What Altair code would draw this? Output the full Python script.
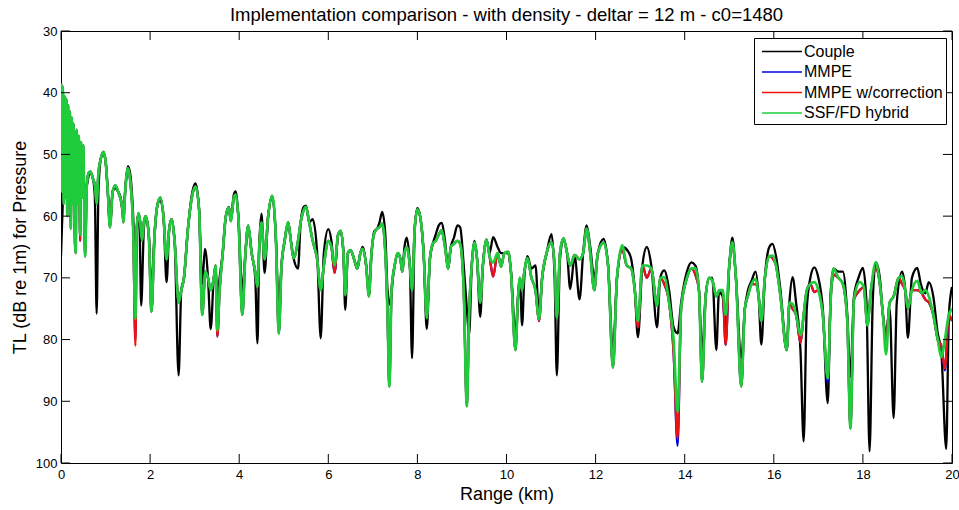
import altair as alt
import pandas as pd

# ---------------- data ----------------
range_couple = [
    0.00, 0.02, 0.04, 0.07, 0.12, 0.20, 0.30, 0.40, 0.50, 0.58,
    0.62, 0.66, 0.72, 0.76, 0.80, 0.84, 0.90, 0.95, 1.00, 1.05,
    1.10, 1.16, 1.22, 1.28, 1.34, 1.40, 1.45, 1.50, 1.55, 1.62,
    1.67, 1.72, 1.76, 1.80, 1.86, 1.90, 1.97, 2.03, 2.10, 2.17,
    2.23, 2.30, 2.37, 2.43, 2.48, 2.55, 2.64, 2.70, 2.76, 2.85,
    2.95, 3.02, 3.10, 3.17, 3.23, 3.30, 3.36, 3.43, 3.47, 3.51,
    3.56, 3.63, 3.70, 3.77, 3.81, 3.88, 3.92, 3.98, 4.07, 4.14,
    4.20, 4.28, 4.36, 4.41, 4.45, 4.50, 4.57, 4.65, 4.74, 4.82,
    4.89, 4.95, 5.02, 5.10, 5.16, 5.22, 5.32, 5.38, 5.45, 5.50,
    5.57, 5.65, 5.75, 5.83, 5.90, 6.00, 6.07, 6.14, 6.22, 6.28,
    6.34, 6.38, 6.44, 6.50, 6.58, 6.65, 6.72, 6.77, 6.85, 6.91,
    6.97, 7.03, 7.10, 7.15, 7.21, 7.28, 7.33, 7.39, 7.45, 7.49,
    7.56, 7.62, 7.66, 7.71, 7.76, 7.83, 7.88, 7.94, 8.00, 8.06,
    8.14, 8.21, 8.28, 8.35, 8.41, 8.48, 8.54, 8.62, 8.69, 8.75,
    8.82, 8.90, 8.96, 9.04, 9.11, 9.16, 9.22, 9.28, 9.34, 9.41,
    9.47, 9.55, 9.62, 9.70, 9.80, 9.88, 9.95, 10.04, 10.10, 10.20,
    10.26, 10.30, 10.35, 10.40, 10.47, 10.56, 10.65, 10.73, 10.80, 10.90,
    11.01, 11.08, 11.13, 11.20, 11.28, 11.36, 11.43, 11.53, 11.64, 11.72,
    11.80, 11.88, 11.97, 12.05, 12.18, 12.28, 12.39, 12.48, 12.60, 12.72,
    12.80, 12.88, 12.95, 13.05, 13.15, 13.25, 13.38, 13.45, 13.54, 13.65,
    13.75, 13.84, 13.92, 14.05, 14.15, 14.24, 14.32, 14.39, 14.47, 14.55,
    14.62, 14.71, 14.77, 14.85, 14.92, 15.00, 15.07, 15.15, 15.27, 15.35,
    15.42, 15.50, 15.59, 15.66, 15.72, 15.80, 15.90, 15.97, 16.05, 16.15,
    16.29, 16.35, 16.42, 16.50, 16.60, 16.67, 16.74, 16.82, 16.91, 17.00,
    17.10, 17.21, 17.28, 17.34, 17.45, 17.55, 17.65, 17.72, 17.80, 17.90,
    18.00, 18.08, 18.15, 18.22, 18.29, 18.38, 18.45, 18.52, 18.60, 18.69,
    18.76, 18.88, 18.95, 19.01, 19.10, 19.22, 19.30, 19.40, 19.48, 19.58,
    19.68, 19.76, 19.87, 19.93, 20.00,
]
tl_couple = [
    66.5, 62, 58, 53, 51, 52, 55, 54, 55, 55,
    53.5, 53, 54, 57, 75.8, 56, 50.5, 49.8, 51, 56,
    61.5, 56, 55.5, 56, 57, 60, 55, 51.9, 53, 60,
    70, 60, 61, 74.5, 62, 60, 63, 72, 63, 58,
    57.5, 60, 70.7, 62, 60.5, 64, 85.8, 72, 70, 62,
    56, 54.7, 59, 71, 65.3, 70, 78.3, 70, 68.5, 74,
    70, 66, 60, 58.5, 60.5, 56.5, 56, 60, 72, 66,
    61.5, 66, 70, 80.6, 65, 59.6, 69.2, 60, 57, 63,
    75, 68, 64, 61, 64, 66.8, 68.5, 61, 58.5, 58.3,
    61, 60.5, 66, 79.8, 66, 62.1, 64, 69, 63, 62.6,
    66, 75.2, 66, 65.5, 67, 68.5, 66, 65, 68, 72,
    66, 62.5, 62, 61, 59.3, 63, 72, 74.4, 70, 68,
    66, 67, 69, 65, 63.5, 68, 83, 62, 58.7, 60,
    66, 78.3, 67, 64.4, 63, 61.5, 61.1, 64, 68.5, 65,
    63.5, 61.5, 61.8, 68, 75, 79.3, 68, 64, 67, 76.3,
    68, 63.8, 66, 63.4, 65, 66, 66, 66, 69, 79,
    73, 70, 77.7, 70, 66.5, 68.5, 68, 76, 70, 66,
    62.9, 70, 85.8, 67, 64, 66, 71.8, 66.5, 73.5, 66,
    61.5, 65, 70, 66, 63.7, 68, 82, 70, 65, 65.6,
    67, 72, 79.6, 68, 65, 68, 78, 70, 68.8, 72,
    78, 79, 74, 69, 67.5, 68, 72, 82, 73, 70,
    70, 81.7, 72.3, 73, 78, 68, 63.5, 70, 83, 75,
    72, 70.5, 69, 73, 80.8, 70, 65, 64.5, 66.5, 72,
    81.7, 74, 69.9, 74, 82, 96.5, 75, 70, 68.3, 70,
    75, 90.3, 72, 68.5, 69, 69, 76, 86, 73, 70,
    68.4, 74, 98.1, 74, 67.5, 70, 76, 79, 75, 92.7,
    74, 69, 72, 79.7, 70, 68.4, 71, 72.5, 70.7, 73,
    79, 82, 97.7, 76, 71.5,
]

range_pe = [
    0.00, 0.02, 0.04, 0.06, 0.08, 0.10, 0.12, 0.14, 0.16, 0.18,
    0.20, 0.22, 0.24, 0.26, 0.28, 0.30, 0.33, 0.35, 0.38, 0.40,
    0.43, 0.45, 0.48, 0.50, 0.54, 0.58, 0.62, 0.66, 0.72, 0.76,
    0.80, 0.84, 0.90, 0.95, 1.00, 1.05, 1.10, 1.16, 1.22, 1.28,
    1.32, 1.38, 1.40, 1.44, 1.50, 1.55, 1.62, 1.67, 1.70, 1.74,
    1.78, 1.82, 1.86, 1.90, 1.97, 2.03, 2.10, 2.17, 2.23, 2.30,
    2.37, 2.43, 2.48, 2.55, 2.64, 2.70, 2.76, 2.85, 2.95, 3.02,
    3.10, 3.17, 3.24, 3.30, 3.36, 3.43, 3.47, 3.51, 3.56, 3.63,
    3.70, 3.77, 3.81, 3.88, 3.92, 3.98, 4.07, 4.14, 4.20, 4.28,
    4.36, 4.41, 4.45, 4.50, 4.57, 4.65, 4.74, 4.82, 4.89, 4.95,
    5.02, 5.10, 5.16, 5.22, 5.32, 5.38, 5.45, 5.50, 5.57, 5.65,
    5.75, 5.83, 5.90, 6.00, 6.07, 6.14, 6.22, 6.28, 6.34, 6.38,
    6.44, 6.50, 6.58, 6.65, 6.72, 6.77, 6.85, 6.91, 6.97, 7.03,
    7.10, 7.15, 7.21, 7.28, 7.33, 7.37, 7.42, 7.49, 7.56, 7.62,
    7.66, 7.71, 7.76, 7.83, 7.88, 7.94, 8.00, 8.06, 8.14, 8.21,
    8.28, 8.35, 8.41, 8.48, 8.54, 8.62, 8.69, 8.75, 8.82, 8.90,
    8.96, 9.04, 9.11, 9.16, 9.22, 9.28, 9.34, 9.41, 9.47, 9.55,
    9.62, 9.70, 9.80, 9.88, 9.95, 10.04, 10.10, 10.20, 10.26, 10.30,
    10.35, 10.40, 10.47, 10.56, 10.65, 10.73, 10.80, 10.90, 11.01, 11.08,
    11.13, 11.20, 11.28, 11.36, 11.43, 11.53, 11.64, 11.72, 11.80, 11.88,
    11.97, 12.05, 12.18, 12.28, 12.39, 12.48, 12.60, 12.70, 12.80, 12.88,
    12.95, 13.05, 13.15, 13.25, 13.38, 13.45, 13.54, 13.65, 13.75, 13.84,
    13.92, 14.05, 14.15, 14.24, 14.32, 14.39, 14.47, 14.55, 14.62, 14.71,
    14.78, 14.85, 14.92, 15.00, 15.07, 15.15, 15.27, 15.35, 15.42, 15.50,
    15.59, 15.66, 15.72, 15.80, 15.90, 15.97, 16.05, 16.15, 16.29, 16.35,
    16.42, 16.50, 16.60, 16.67, 16.74, 16.82, 16.91, 17.00, 17.10, 17.21,
    17.28, 17.34, 17.45, 17.55, 17.65, 17.72, 17.80, 17.93, 18.02, 18.10,
    18.18, 18.29, 18.38, 18.45, 18.52, 18.60, 18.69, 18.80, 18.88, 18.95,
    19.01, 19.10, 19.22, 19.32, 19.40, 19.48, 19.58, 19.68, 19.76, 19.84,
    19.93, 20.00,
]
tl_ssf = [
    38.5, 56, 39, 58, 40.5, 57, 41, 60, 42, 58,
    43, 62, 44, 58, 45, 60, 66, 46, 58, 47,
    63, 48, 57, 48.5, 66.5, 55, 53, 52.8, 54, 55,
    58, 53, 50.5, 49.6, 51, 56, 61.8, 56, 55, 56,
    56.8, 59, 61, 56, 52.2, 54, 62, 76.6, 62, 59.5,
    61, 64, 61, 60, 63, 75.5, 63, 58, 57, 60,
    67, 62, 60.5, 64, 74, 72, 70, 62, 56.5, 55.2,
    59, 76, 69, 70, 72, 70, 68, 78.5, 72, 66,
    60, 58.6, 60.8, 57, 56.5, 60, 76, 66, 61.6, 66,
    69, 71.5, 65, 61, 67, 60, 56.7, 63, 79, 68,
    64, 61, 64, 66.8, 64, 61, 59, 58.5, 61, 64,
    67, 72, 68, 64, 65, 68, 63, 62.4, 66, 72.8,
    66, 65.5, 67, 68.5, 66, 65.3, 68, 73, 66, 62.8,
    62, 61.8, 61.2, 66, 76, 87.6, 72, 68, 66, 67,
    69, 66, 65, 68, 72, 62, 58.9, 60, 66, 76.5,
    67, 64.4, 64, 63, 62.3, 65, 68.5, 65, 64.5, 64,
    64.5, 72, 90.8, 76, 68, 64.3, 67, 74, 68, 63.8,
    66.5, 67.5, 66, 68.2, 66, 65.8, 69, 81.7, 73, 70,
    72, 69, 66.8, 70, 72, 76.7, 70, 66, 64.2, 68,
    76.5, 66, 63.6, 66, 68, 66.3, 67, 66, 62, 66,
    72, 66, 64.3, 68, 84.5, 70, 64.7, 68, 68.5, 72,
    77, 68, 68, 68.5, 74.5, 70, 69.9, 74, 80, 91.7,
    75, 70, 68.5, 68.4, 72, 86.8, 73, 70, 70.4, 73,
    72, 72, 76, 68, 64.2, 70, 87.6, 75, 72.9, 71,
    70.2, 73, 77, 70, 66.5, 66.4, 68, 73, 81.7, 74,
    74.2, 76, 79.3, 76, 72, 71, 70.7, 72, 76, 86.3,
    73, 68.5, 70, 71, 77, 94.4, 73.5, 70.7, 71.5, 77.7,
    72, 67.5, 71, 76, 82.4, 74, 73, 70, 69.7, 72,
    75, 72, 70.5, 72.5, 72, 73, 76, 80, 82.9, 80,
    76, 75,
]
tl_mmpe_corr = [
    38.5, 56, 39, 58, 40.5, 57, 41, 60, 42, 58,
    43, 62, 44, 58, 45, 60, 66, 46, 58, 47,
    64, 48, 57, 48.5, 66.5, 55, 53, 52.8, 54, 55,
    58, 53, 50.5, 49.6, 51, 56, 61.8, 56, 55, 56,
    56.8, 59, 61, 56, 52.2, 54, 62, 81, 62, 59.5,
    61, 64, 61, 60, 63, 75.5, 63, 58, 57, 60,
    67, 62, 60.5, 64, 74, 72, 70, 62, 56.5, 55.2,
    59, 76, 69, 70, 72, 70, 68, 79.5, 72, 66,
    60, 58.6, 60.8, 57, 56.5, 60, 76, 66, 61.6, 66,
    69, 71.5, 65, 61, 67, 60, 56.7, 63, 79, 68,
    64, 61, 64, 66.8, 64, 61, 59, 58.5, 61, 64,
    67, 72, 68, 64, 65, 69.2, 63, 62.4, 66, 72.8,
    66, 65.5, 67, 68.5, 66, 65.3, 68, 73, 66, 62.8,
    62, 61.8, 61.2, 66, 76, 87.6, 72, 68, 66, 67,
    69, 66, 65, 68, 72, 62, 58.9, 60, 66, 76.5,
    67, 64.4, 64, 63, 62.3, 65, 68.5, 65, 64.5, 64,
    64.5, 72, 90.8, 76, 68, 64.3, 67, 74, 68, 63.8,
    66.5, 69.8, 66, 68.2, 66, 65.8, 69, 81.7, 73, 70,
    72, 69, 66.8, 70, 72, 77, 70, 66, 64.2, 68,
    76.5, 66, 63.6, 66, 68, 66.3, 67, 66, 62, 66,
    72, 66, 64.3, 68, 84.5, 70, 65.5, 68, 68.5, 72,
    78, 68, 70, 68.5, 74.5, 70, 71, 74, 82, 96,
    75, 70, 68.5, 69.5, 72, 86.8, 73, 70, 70.4, 73,
    72, 72, 80.9, 68, 65, 70, 87.6, 75, 72.9, 71,
    71, 73, 77, 70, 66.5, 66.8, 68, 73, 81.7, 74,
    75, 76, 80.5, 76, 72, 71, 72.3, 72, 76, 86.3,
    73, 69.5, 70, 71, 77, 94.4, 73.5, 72, 71.5, 77.7,
    72, 68.5, 71, 76, 80, 74, 73, 70, 71, 72,
    75, 72, 72, 72.5, 73.5, 74, 76, 80, 81, 84.7,
    76, 77,
]
tl_mmpe = [
    38.5, 56, 39, 58, 40.5, 57, 41, 60, 42, 58,
    43, 62, 44, 58, 45, 60, 66, 46, 58, 47,
    64, 48, 57, 48.5, 66.5, 55, 53, 52.8, 54, 55,
    58, 53, 50.5, 49.6, 51, 56, 61.8, 56, 55, 56,
    56.8, 59, 61, 56, 52.2, 54, 62, 80, 62, 59.5,
    61, 64, 61, 60, 63, 75.5, 63, 58, 57, 60,
    67, 62, 60.5, 64, 74, 72, 70, 62, 56.5, 55.2,
    59, 76, 69, 70, 72, 70, 68, 79.5, 72, 66,
    60, 58.6, 60.8, 57, 56.5, 60, 76, 66, 61.6, 66,
    69, 71.5, 65, 61, 67, 60, 56.7, 63, 79, 68,
    64, 61, 64, 66.8, 64, 61, 59, 58.5, 61, 64,
    67, 72, 68, 64, 65, 69.2, 63, 62.4, 66, 72.8,
    66, 65.5, 67, 68.5, 66, 65.3, 68, 73, 66, 62.8,
    62, 61.8, 61.2, 66, 76, 87.6, 72, 68, 66, 67,
    69, 66, 65, 68, 72, 62, 58.9, 60, 66, 76.5,
    67, 64.4, 64, 63, 62.3, 65, 68.5, 65, 64.5, 64,
    64.5, 72, 90.8, 76, 68, 64.3, 67, 74, 68, 63.8,
    66.5, 69.8, 66, 68.2, 66, 65.8, 69, 81.7, 73, 70,
    72, 69, 66.8, 70, 72, 77, 70, 66, 64.2, 68,
    76.5, 66, 63.6, 66, 68, 66.3, 67, 66, 62, 66,
    72, 66, 64.3, 68, 84.5, 70, 65.5, 68, 68.5, 72,
    78, 68, 70, 68.5, 74.5, 70, 71, 74, 82, 97.2,
    75, 70, 68.5, 69.5, 72, 86.8, 73, 70, 70.4, 73,
    72, 72, 80.9, 68, 65, 70, 87.6, 75, 72.9, 71,
    71, 73, 77, 70, 66.5, 66.8, 68, 73, 81.7, 74,
    75, 76, 80.5, 76, 72, 71, 72.3, 72, 76, 87,
    73, 69.5, 70, 71, 77, 94.4, 73.5, 72, 71.5, 77.7,
    72, 68.5, 71, 76, 80, 74, 73, 70, 71, 72,
    75, 72, 72, 72.5, 73.5, 74, 76, 80, 81, 85,
    76, 77,
]

series_names = ["Couple", "MMPE", "MMPE w/correction", "SSF/FD hybrid"]
series_colors = ["#000000", "#0000dd", "#ee1111", "#1ecc3c"]
x_ticks = [0, 2, 4, 6, 8, 10, 12, 14, 16, 18, 20]
y_ticks = [30, 40, 50, 60, 70, 80, 90, 100]

FONT = "Liberation Sans"
W, H = 891, 432

# ---------------- tables ----------------
df_couple = pd.DataFrame({"range": range_couple, "tl": tl_couple, "series": series_names[0]})
df_mmpe = pd.DataFrame({"range": range_pe, "tl": tl_mmpe, "series": series_names[1]})
df_corr = pd.DataFrame({"range": range_pe, "tl": tl_mmpe_corr, "series": series_names[2]})
df_ssf = pd.DataFrame({"range": range_pe, "tl": tl_ssf, "series": series_names[3]})
df_xt = pd.DataFrame({"range": x_ticks})
df_yt = pd.DataFrame({"tl": y_ticks})

x_scale = alt.Scale(domain=[0, 20], nice=False, zero=False)
y_scale = alt.Scale(domain=[30, 100], reverse=True, nice=False, zero=False)

x_axis = alt.Axis(
    values=x_ticks, ticks=False, domain=False, grid=False,
    labelFontSize=13, labelPadding=5, titleFontSize=18, titleFontWeight="normal",
    titlePadding=4, labelFont=FONT, titleFont=FONT, labelColor="black", titleColor="black",
    labelFlush=False,
)
y_axis = alt.Axis(
    values=y_ticks, ticks=False, domain=False, grid=False,
    labelFontSize=13, labelPadding=4, titleFontSize=18, titleFontWeight="normal",
    titlePadding=6, labelFont=FONT, titleFont=FONT, labelColor="black", titleColor="black",
    labelFlush=False,
)
x_enc = alt.X("range:Q", scale=x_scale, axis=x_axis, title="Range (km)")
y_enc = alt.Y("tl:Q", scale=y_scale, axis=y_axis, title="TL (dB re 1m) for Pressure")

color_enc = alt.Color(
    "series:N",
    scale=alt.Scale(domain=series_names, range=series_colors),
    sort=series_names,
    legend=alt.Legend(
        title=None, orient="none", legendX=693, legendY=7,
        fillColor="white", strokeColor="black", padding=3, cornerRadius=0,
        labelFont=FONT, labelFontSize=16, labelColor="black",
        symbolType="M-0.58,0L3.63,0", symbolSize=361, symbolStrokeWidth=1.6,
        labelOffset=26, rowPadding=1.5,
    ),
)


def line_layer(df, width):
    return alt.Chart(df).mark_line(strokeWidth=width, interpolate="monotone", clip=True).encode(
        x=x_enc, y=y_enc, color=color_enc
    )


lines = [
    line_layer(df_couple, 2.3),
    line_layer(df_mmpe, 2.3),
    line_layer(df_corr, 2.3),
    line_layer(df_ssf, 2.7),
]

tick_len = 9
xt_bottom = alt.Chart(df_xt).mark_rule(color="black", strokeWidth=1).encode(
    x=x_enc, y=alt.value(H), y2=alt.value(H - tick_len)
)
xt_top = alt.Chart(df_xt).mark_rule(color="black", strokeWidth=1).encode(
    x=x_enc, y=alt.value(0), y2=alt.value(tick_len)
)
yt_left = alt.Chart(df_yt).mark_rule(color="black", strokeWidth=1).encode(
    y=y_enc, x=alt.value(0), x2=alt.value(tick_len)
)
yt_right = alt.Chart(df_yt).mark_rule(color="black", strokeWidth=1).encode(
    y=y_enc, x=alt.value(W), x2=alt.value(W - tick_len)
)

chart = (
    alt.layer(*lines, xt_bottom, xt_top, yt_left, yt_right)
    .properties(
        width=W,
        height=H,
        title=alt.TitleParams(
            "Implementation comparison - with density - deltar = 12 m - c0=1480",
            fontSize=18.5, fontWeight="normal", font=FONT, color="black",
            offset=1, anchor="middle", frame="group",
        ),
        padding={"left": 61, "top": 31, "right": 7, "bottom": 47},
        autosize=alt.AutoSizeParams(type="none"),
        background="white",
    )
    .configure_view(stroke="black", strokeWidth=1)
)

chart.save("out.html", embed_options={"renderer": "svg", "actions": False})
